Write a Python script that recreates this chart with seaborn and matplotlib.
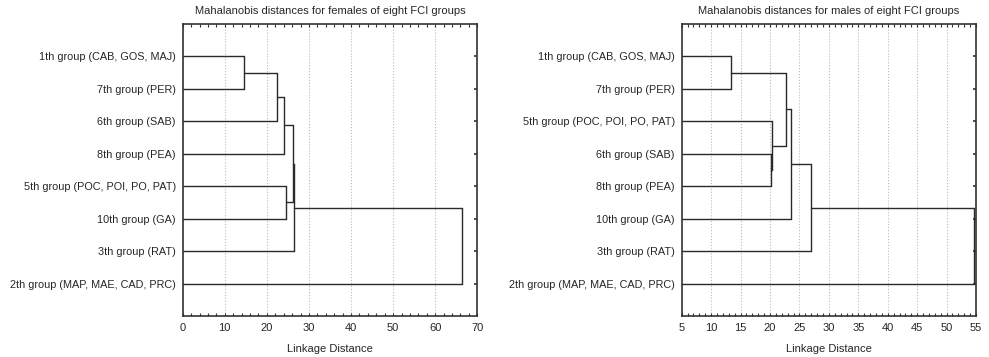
import matplotlib
matplotlib.use("Agg")
import matplotlib.pyplot as plt
import numpy as np
import pandas as pd
import seaborn as sns
from matplotlib.ticker import MultipleLocator

# leaf labels, top to bottom
female_labels = ["1th group (CAB, GOS, MAJ)", "7th group (PER)", "6th group (SAB)",
                 "8th group (PEA)", "5th group (POC, POI, PO, PAT)", "10th group (GA)",
                 "3th group (RAT)", "2th group (MAP, MAE, CAD, PRC)"]
male_labels = ["1th group (CAB, GOS, MAJ)", "7th group (PER)", "5th group (POC, POI, PO, PAT)",
               "6th group (SAB)", "8th group (PEA)", "10th group (GA)",
               "3th group (RAT)", "2th group (MAP, MAE, CAD, PRC)"]

# merges: (child a, child b, linkage distance); new clusters numbered from 8
female_merges = [(0, 1, 14.5), (8, 2, 22.3), (9, 3, 24.0), (4, 5, 24.6),
                 (10, 11, 26.3), (12, 6, 26.5), (13, 7, 66.3)]
male_merges = [(0, 1, 13.4), (3, 4, 20.1), (2, 9, 20.4), (8, 10, 22.7),
               (11, 5, 23.5), (12, 6, 26.9), (13, 7, 54.6)]


def segments(merges, n, base):
    pos = {i: (base, i + 1) for i in range(n)}
    rows = []
    seg = 0
    for k, (a, b, d) in enumerate(merges):
        xa, ya = pos[a]
        xb, yb = pos[b]
        for (x0, y0, x1, y1) in [(xa, ya, d, ya), (xb, yb, d, yb), (d, ya, d, yb)]:
            rows.append({"seg": seg, "x": x0, "y": y0})
            rows.append({"seg": seg, "x": x1, "y": y1})
            seg += 1
        pos[n + k] = (d, (ya + yb) / 2)
    return pd.DataFrame(rows)


sns.set_style("white")
plt.rcParams["font.family"] = ["Liberation Sans", "DejaVu Sans"]
plt.rcParams["font.size"] = 8

fig = plt.figure(figsize=(9.89, 3.57), dpi=100)
ax1 = fig.add_axes([0.1847, 0.1148, 0.2979, 0.818])
ax2 = fig.add_axes([0.6893, 0.1148, 0.2976, 0.818])

panels = [
    (ax1, female_labels, female_merges, (0, 70), 10, 2, "Mahalanobis distances for females of eight FCI groups"),
    (ax2, male_labels, male_merges, (5, 55), 5, 1, "Mahalanobis distances for males of eight FCI groups"),
]

for ax, labels, merges, xlim, major, minor, title in panels:
    df = segments(merges, len(labels), xlim[0])
    ax.set_xlim(*xlim)
    ax.set_ylim(9, 0)
    ax.xaxis.set_major_locator(MultipleLocator(major))
    ax.xaxis.set_minor_locator(MultipleLocator(minor))
    ax.grid(axis="x", which="major", color="#bbbbbb", linestyle=":", linewidth=0.8)
    ax.set_axisbelow(True)
    sns.lineplot(data=df, x="x", y="y", units="seg", estimator=None, sort=False,
                 color="#2a2a2a", linewidth=1.0, ax=ax)
    ax.set_yticks(range(1, len(labels) + 1))
    ax.set_yticklabels(labels, fontsize=7.8)
    ax.tick_params(axis="y", which="both", left=False, right=True, direction="in",
                   length=2.5, width=1.2, color="#333333", pad=5)
    ax.tick_params(axis="x", which="both", top=True, bottom=True, direction="in",
                   length=2.5, width=0.8, color="#333333", labelsize=8, pad=5)
    for s in ax.spines.values():
        s.set_color("#333333")
        s.set_linewidth(1.2)
    ax.set_xlabel("Linkage Distance", fontsize=8, labelpad=8)
    ax.set_ylabel("")
    ax.set_title(title, fontsize=8, pad=7)

fig.savefig("out.png", dpi=100)
